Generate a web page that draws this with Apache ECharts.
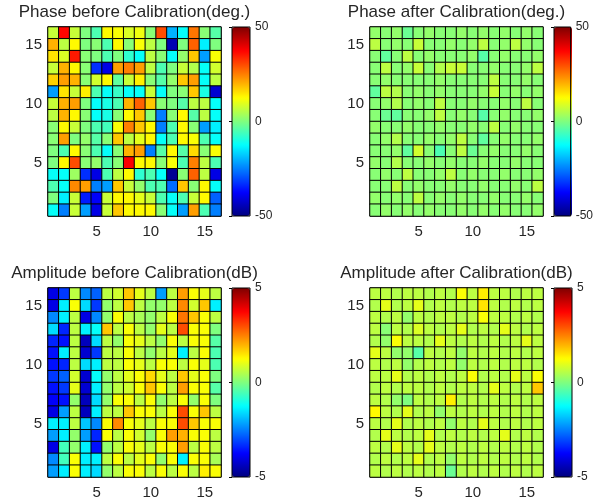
<!DOCTYPE html>
<html>
<head>
<meta charset="utf-8">
<script src="https://cdn.jsdelivr.net/npm/echarts@6/dist/echarts.min.js"></script>
<style>
html,body{margin:0;padding:0;background:#fff;}
#chart{width:596px;height:500px;}
</style>
</head>
<body>
<div id="chart"></div>
<script>
// ---------- data (rows listed from top row 16 down to row 1) ----------
const categories = ['1','2','3','4','5','6','7','8','9','10','11','12','13','14','15','16'];
const tickLabels = ['5','10','15'];
const titles = ['Phase before Calibration(deg.)','Phase after Calibration(deg.)','Amplitude before Calibration(dB)','Amplitude after Calibration(dB)'];
const phaseRange = [-50, 50];
const ampRange = [-5, 5];

const phaseBefore = [
  [7, 37, 7, 0, -5, 13, 12, 9, 11, 1, 30, -20, -12, 26, 1, -4],
  [20, 6, 13, 0, 1, -5, 13, 1, 12, 6, 0, -45, 0, 28, -14, 0],
  [15, 9, 35, 1, 0, -5, 0, -8, -12, 6, 1, -12, 2, 18, -22, 12],
  [7, 20, 13, 1, -33, -40, 22, 25, 22, 6, -5, 0, 7, 5, -12, 8],
  [17, 22, 20, 1, 8, 13, -3, 7, 14, 1, -4, 2, 18, 22, -12, 6],
  [-22, 15, 7, 14, -5, -12, -7, -12, -12, 7, -12, 0, 1, 18, -10, -42],
  [7, 20, 22, 0, -12, -10, -5, 20, 28, 18, 1, 0, -4, 6, 6, -12],
  [6, 20, 13, 1, -12, -10, 1, 13, 18, 1, -25, 1, 13, -4, 6, -12],
  [1, 13, 7, 0, -5, -6, 12, 25, 18, 13, -25, -5, 13, 1, -22, -14],
  [1, 22, 0, 2, -4, 1, 18, 6, 10, 13, -12, -5, 13, 12, -5, -12],
  [0, -5, 13, 1, -5, -12, 1, 20, 22, -25, -4, 13, -4, 16, 1, 12],
  [0, 13, 30, 1, 2, -5, 1, 38, 13, 13, 1, 12, -5, 25, 6, -5],
  [-12, -12, 3, -33, -40, -5, 6, 13, -8, -5, -12, -48, 1, 28, 6, -40],
  [-5, -12, 24, 22, -25, -22, 18, 7, 2, -5, -5, -27, 18, 1, 13, -12],
  [0, -14, 7, -35, -38, 7, 13, 13, 10, 7, -5, -12, -5, 7, 13, -28],
  [-12, -25, 7, -22, -40, 7, 18, 13, 13, 13, 1, -12, -22, 22, -5, -25]
];

const phaseAfter = [
  [2, 1, 2, -2, 1, 2, 1, 1, 2, 1, 2, 1, 2, 1, 2, 1],
  [6, 1, 2, 1, 7, 1, 1, 2, 1, 2, 6, 1, 2, 6, 2, 1],
  [1, -3, 1, 6, 1, 2, 1, 1, 1, 2, -4, 1, 2, 1, 1, 2],
  [1, 6, 1, 2, 7, 1, 5, 7, 7, 1, 1, 2, 1, 1, 2, 6],
  [1, 2, 1, 1, 1, 1, 2, 1, 1, 1, 1, 6, 1, 1, 2, 1],
  [-3, 6, 5, 1, 2, 1, 2, 1, 1, 1, 2, 7, 1, 2, 1, 2],
  [1, 2, 5, 1, 2, 1, 6, 1, 1, 2, 1, 1, 2, 1, 6, 1],
  [1, -2, -3, 1, 1, 2, 6, 1, 2, 1, -4, 1, 2, 1, 1, 2],
  [2, 1, 1, 2, 1, 1, 2, 1, 1, 2, 1, 6, 1, 2, 1, 1],
  [1, 2, 5, 1, 1, 2, 1, 2, 6, 1, -3, 1, 2, 1, 1, 2],
  [1, 1, 2, -3, 8, 1, -5, 1, 6, -2, 1, 2, 1, 1, 2, 1],
  [2, 1, 5, 1, 1, 2, 1, 2, 1, 1, 2, 1, 1, 2, 1, 1],
  [1, 2, 1, 6, 1, 1, 2, 6, 1, 2, 1, 1, 2, 1, 1, 2],
  [1, 1, 6, 1, 2, 1, 1, 2, 1, 1, 2, 1, 1, 2, 1, 6],
  [2, 1, 2, 1, 6, 1, 2, 1, 2, 1, 1, 2, 1, 1, 2, 1],
  [1, 2, 1, 2, 1, 2, 1, 1, 2, 1, 2, 1, 2, 1, 1, 2]
];

const ampBefore = [
  [-4.0, -3.2, 0.6, -2.4, -2.8, 0.6, 0.8, 1.8, 1.0, 0.6, -2.2, 0.6, 2.2, 1.2, 1.0, 0.6],
  [-4.0, -1.4, 1.2, -1.6, -3.2, 0.2, 0.6, 1.8, 0.6, 0.2, 0.2, 0.6, 2.4, 0.8, 1.8, -1.4],
  [-2.4, -1.4, 0.6, -4.0, -2.4, 0.2, 1.2, 0.6, 0.4, 0.2, 0.6, 1.2, 2.6, 1.8, 1.2, 0.6],
  [-1.6, -3.4, 0.6, -1.4, -1.2, 1.8, 0.6, 1.2, 0.6, 0.2, 1.0, 0.6, 3.0, 1.2, 1.2, 0.0],
  [-3.4, -3.6, 0.6, -4.4, -1.6, 0.6, 0.2, 1.2, 1.0, 0.6, 0.2, 1.2, 0.6, 1.2, 1.2, -0.4],
  [-3.6, -1.4, 0.6, -4.2, -3.2, 0.6, 0.6, 1.2, 0.6, 0.2, 0.6, 1.0, -1.4, 0.6, 1.2, -0.5],
  [-3.6, -3.4, 0.6, -1.6, -1.4, 0.6, 0.6, 1.2, 1.0, 0.6, 1.2, 1.2, 0.6, 1.2, 1.0, -0.5],
  [-3.2, -2.8, 0.8, -4.2, -1.2, 0.2, 0.6, 1.0, 1.2, 1.6, 1.0, 0.6, 1.8, 1.0, 1.2, 0.0],
  [-3.6, -3.2, 1.0, -4.2, -1.4, 0.2, 0.6, 0.8, 1.2, 1.8, 1.2, 0.6, 2.2, 1.2, 1.2, -0.4],
  [-3.8, -3.6, 0.2, -4.4, -1.6, 0.2, 1.2, 1.2, 0.6, 1.2, 0.2, 0.6, 1.2, 0.2, 1.2, 0.0],
  [-4.0, -2.2, 0.6, -4.4, -1.4, 0.6, 0.6, 1.8, 1.2, 1.2, 0.6, 1.2, 3.0, 1.2, 1.8, 0.6],
  [-1.4, -1.4, 0.6, -1.8, -2.4, 1.2, 2.4, 1.2, 1.0, 0.6, 1.2, 1.2, 3.0, 1.8, 1.2, 1.2],
  [-2.2, -1.4, 0.2, -2.2, -3.4, 1.2, 0.6, 1.2, 0.8, 0.2, 1.2, 2.2, 2.0, 1.2, 1.2, 0.6],
  [-4.0, -0.6, 0.2, -1.4, -3.6, 0.2, 0.6, 1.2, 1.0, 0.6, 1.2, 1.2, 2.2, 0.6, 1.2, 0.6],
  [-2.4, -0.6, 1.2, -1.4, -1.4, 0.6, 1.2, 0.6, 1.0, 1.2, 0.2, 1.2, -1.4, 1.2, 1.2, 0.4],
  [-2.2, -1.4, 1.2, -1.4, -1.6, 0.2, 0.6, 1.2, 1.2, 0.6, 1.2, 0.6, 1.2, 0.6, 1.4, 1.2]
];

const ampAfter = [
  [0.6, 0.6, 0.5, 0.6, 0.6, 0.5, 0.6, 0.5, 1.2, 0.6, 1.4, 0.6, 0.6, 0.5, 0.6, 0.6],
  [0.5, 1.0, 0.5, 0.6, 1.0, 0.5, 0.6, 0.5, 0.6, 0.6, 1.5, 0.6, 0.5, 0.6, 0.5, 0.6],
  [0.6, 0.5, 0.6, 0.2, 0.6, 0.5, 0.6, 0.6, 0.5, 0.6, 1.2, 0.6, 0.6, 0.5, 0.6, 0.5],
  [0.6, 0.1, 0.6, 0.5, 0.9, 0.6, 0.5, 0.6, 1.0, 0.5, 0.6, 0.5, 1.0, 0.6, 0.5, 0.6],
  [0.5, 0.2, 1.2, 0.6, 0.6, 0.5, 1.0, 0.6, 0.5, 0.6, 0.5, 0.6, 0.5, 0.6, 1.0, 0.6],
  [1.0, 0.6, 0.2, 0.2, -0.4, 0.6, 0.5, 0.6, 0.2, 0.6, 0.5, 0.6, 0.5, 0.6, 0.5, 0.6],
  [0.6, 0.5, 0.6, 0.2, 0.5, 0.6, 0.5, 0.6, 0.2, 0.6, 0.5, 0.6, 0.5, 0.6, 0.6, 0.5],
  [0.6, 0.6, 1.0, 0.5, 0.6, 0.5, 0.6, 0.5, 0.6, 1.2, 0.5, 0.6, 0.5, 1.0, 0.6, 1.2],
  [0.5, 0.6, 0.5, 0.6, 0.6, 0.5, 0.6, 0.5, 0.6, 0.6, 0.5, 1.0, 0.6, 0.5, 0.6, 1.8],
  [0.6, 0.5, 0.2, 0.0, 0.6, 0.5, 0.6, 1.4, 0.5, 0.6, 0.5, 0.6, 0.5, 0.6, 0.5, 0.6],
  [1.3, 0.6, 0.5, 1.0, 0.5, 0.6, 0.2, 0.6, 0.5, 0.6, 0.5, 0.6, 0.5, 0.6, 0.5, 0.6],
  [0.6, 0.5, 1.0, 0.5, 0.6, 0.5, 0.6, 0.2, 0.6, 0.5, 1.0, 0.6, 0.5, 0.6, 0.5, 0.6],
  [0.5, 1.0, 0.6, 0.5, 0.6, 1.0, 0.5, 0.6, 0.5, 0.6, 0.5, 0.6, 1.0, 0.5, 0.6, 0.5],
  [0.6, 0.5, 1.0, 0.6, 0.5, 1.0, 0.6, 0.5, 0.6, 0.5, 0.6, 0.5, 0.6, 0.5, 0.6, 0.5],
  [0.5, 0.6, 0.5, 0.6, 1.0, 0.5, 0.6, 0.2, 0.6, 0.5, 0.6, 0.5, 0.6, 0.5, 0.6, 0.5],
  [0.6, 0.5, 0.6, 0.5, 0.6, 0.5, 0.6, -0.2, 0.5, 0.6, 0.5, 0.6, 0.5, 0.6, 0.5, 0.6]
];

// ---------- chart ----------
const jet = ['#00007f','#0000ff','#007fff','#00ffff','#7fff7f','#ffff00','#ff7f00','#ff0000','#7f0000'];
const FONT = '"Liberation Sans", Arial, sans-serif';
const TXT = '#262626';

const panels = [
  {data: phaseBefore, range: phaseRange, left: 48,  top: 27,  cb: 232},
  {data: phaseAfter,  range: phaseRange, left: 370, top: 27,  cb: 554},
  {data: ampBefore,   range: ampRange,   left: 48,  top: 288, cb: 232},
  {data: ampAfter,    range: ampRange,   left: 370, top: 288, cb: 554}
];
const PW = 173, PH = 189, CBW = 18;

function toCells(rows) {
  const out = [];
  const n = rows.length;
  rows.forEach((row, i) => row.forEach((v, j) => out.push([j, n - 1 - i, v])));
  return out;
}

const grid = [], xAxis = [], yAxis = [], series = [], visualMap = [], graphic = [];
const showTick = (idx, val) => tickLabels.indexOf(val) >= 0;

panels.forEach((p, k) => {
  grid.push({left: p.left, top: p.top, width: PW, height: PH, show: true,
    borderColor: '#000', borderWidth: 1, backgroundColor: 'transparent', containLabel: false});
  xAxis.push({type: 'category', gridIndex: k, data: categories,
    axisLine: {show: false}, axisTick: {show: false}, splitLine: {show: false},
    axisLabel: {interval: showTick, margin: 8, fontSize: 15, color: TXT, fontFamily: FONT}});
  yAxis.push({type: 'category', gridIndex: k, data: categories,
    axisLine: {show: false}, axisTick: {show: false}, splitLine: {show: false},
    axisLabel: {interval: showTick, margin: 6, fontSize: 15, color: TXT, fontFamily: FONT}});
  series.push({type: 'heatmap', xAxisIndex: k, yAxisIndex: k, data: toCells(p.data),
    itemStyle: {borderColor: '#000', borderWidth: 1},
    emphasis: {disabled: true}, progressive: 0, animation: false});
  visualMap.push({type: 'continuous', seriesIndex: k, min: p.range[0], max: p.range[1],
    left: p.cb, top: p.top, itemWidth: CBW, itemHeight: PH, padding: 0,
    calculable: false, realtime: false, hoverLink: false, text: null,
    inRange: {color: jet}, borderColor: '#000', borderWidth: 0});
  graphic.push({type: 'text', x: p.left + PW / 2, y: p.top - 15,
    style: {text: titles[k], fill: TXT, font: '17px ' + FONT, textAlign: 'center', textVerticalAlign: 'middle',
      align: 'center', verticalAlign: 'middle'}});
});

// colour-bar frames and tick labels
panels.forEach((p, k) => {
  const gi = 4 + k;
  grid.push({left: p.cb, top: p.top, width: CBW, height: PH, show: true,
    borderColor: '#000', borderWidth: 1, backgroundColor: 'transparent', z: 10});
  xAxis.push({type: 'value', gridIndex: gi, show: false, min: 0, max: 1});
  yAxis.push({type: 'value', gridIndex: gi, position: 'right', min: p.range[0], max: p.range[1],
    interval: p.range[1], z: 10,
    axisLine: {show: false}, splitLine: {show: false},
    axisTick: {show: true, inside: true, length: 3, lineStyle: {color: '#000'}},
    axisLabel: {margin: 5, fontSize: 12, color: TXT, fontFamily: FONT}});
});

const chart = echarts.init(document.getElementById('chart'), null, {renderer: 'canvas'});
chart.setOption({
  animation: false,
  backgroundColor: '#fff',
  grid, xAxis, yAxis, series, visualMap, graphic
});
</script>
</body>
</html>
